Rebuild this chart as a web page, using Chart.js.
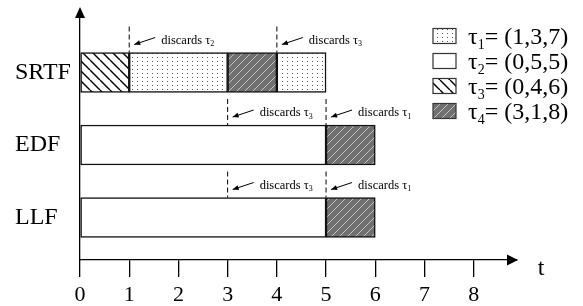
<!DOCTYPE html>
<html>
<head>
<meta charset="utf-8">
<script src="https://cdn.jsdelivr.net/npm/chart.js@4.4.0/dist/chart.umd.min.js"></script>
<style>
  html, body { margin: 0; padding: 0; background: #fff; }
</style>
</head>
<body>
<canvas id="chart" width="583" height="306"></canvas>
<script>
// rows of the chart (scheduling policies)
const schedulers = ['SRTF', 'EDF', 'LLF'];
// tasks and their parameters
const taskSubs = ['1', '2', '3', '4'];
const taskParams = ['(1,3,7)', '(0,5,5)', '(0,4,6)', '(3,1,8)'];

// execution segments
const segRow   = ['SRTF', 'SRTF', 'SRTF', 'SRTF', 'EDF', 'EDF', 'LLF', 'LLF'];
const segTask  = [2, 0, 3, 0, 1, 3, 1, 3];
const segStart = [0, 1, 3, 4, 0, 5, 0, 5];
const segEnd   = [1, 3, 4, 5, 5, 6, 5, 6];

// discard events
const discRow  = ['SRTF', 'SRTF', 'EDF', 'EDF', 'LLF', 'LLF'];
const discTime = [1, 4, 3, 5, 3, 5];
const discTask = [1, 2, 2, 0, 2, 0];

const xTicks = [0, 1, 2, 3, 4, 5, 6, 7, 8];

const SERIF = "'Liberation Serif', 'Times New Roman', serif";
Chart.defaults.font.family = SERIF;
Chart.defaults.color = '#000';

// fill patterns for each task
function makePattern(kind) {
  const c = document.createElement('canvas');
  const g = c.getContext('2d');
  if (kind === 0) {            // dotted
    c.width = 5; c.height = 4;
    g.fillStyle = '#fff'; g.fillRect(0, 0, 5, 4);
    g.fillStyle = '#555'; g.fillRect(2, 1, 1, 1);
  } else if (kind === 1) {     // plain white
    return '#fff';
  } else if (kind === 2) {     // black back-diagonal hatch
    const s = 10;
    c.width = s; c.height = s;
    g.fillStyle = '#fff'; g.fillRect(0, 0, s, s);
    g.strokeStyle = '#000'; g.lineWidth = 1.4;
    g.beginPath();
    for (const k of [-s, 0, s]) { g.moveTo(k, 0); g.lineTo(k + s, s); }
    g.stroke();
  } else {                     // dark grey with light forward hatch
    const s = 8;
    c.width = s; c.height = s;
    g.fillStyle = '#707070'; g.fillRect(0, 0, s, s);
    g.strokeStyle = '#c4c4c4'; g.lineWidth = 1;
    g.beginPath();
    for (const k of [-s, 0, s]) { g.moveTo(k, s); g.lineTo(k + s, 0); }
    g.stroke();
  }
  return g.createPattern(c, 'repeat');
}
const patterns = [0, 1, 2, 3].map(makePattern);

const datasets = taskSubs.map((sub, t) => ({
  label: 'τ' + sub,
  data: segRow
    .map((r, i) => segTask[i] === t ? { x: [segStart[i], segEnd[i]], y: schedulers.indexOf(r) } : null)
    .filter(Boolean),
  backgroundColor: patterns[t],
  borderColor: '#111',
  borderWidth: 1.5,
  borderSkipped: false,
  barThickness: 40,
  grouped: false
}));

// text with a subscript: base + sub + rest
function subText(ctx, x, y, base, sub, rest, size) {
  ctx.font = size + 'px ' + SERIF;
  ctx.fillText(base, x, y);
  x += ctx.measureText(base).width;
  ctx.font = Math.round(size * 0.6) + 'px ' + SERIF;
  ctx.fillText(sub, x, y + size * 0.2);
  x += ctx.measureText(sub).width;
  ctx.font = size + 'px ' + SERIF;
  ctx.fillText(rest, x, y);
}

const extras = {
  id: 'extras',
  afterDraw(chart) {
    const ctx = chart.ctx;
    const xs = chart.scales.x, ys = chart.scales.y;
    const area = chart.chartArea;
    ctx.save();
    ctx.fillStyle = '#000';
    ctx.strokeStyle = '#000';

    // axis arrow heads
    ctx.beginPath();
    ctx.moveTo(area.right + 1, area.bottom);
    ctx.lineTo(area.right - 10, area.bottom - 5.5);
    ctx.lineTo(area.right - 10, area.bottom + 5.5);
    ctx.closePath();
    ctx.fill();
    ctx.beginPath();
    ctx.moveTo(area.left, area.top - 10);
    ctx.lineTo(area.left - 5, area.top + 1);
    ctx.lineTo(area.left + 5, area.top + 1);
    ctx.closePath();
    ctx.fill();

    ctx.font = '24px ' + SERIF;
    ctx.textAlign = 'center';
    ctx.textBaseline = 'alphabetic';
    ctx.fillText('t', area.right + 24, area.bottom + 15);

    // discard markers
    ctx.textAlign = 'left';
    discTime.forEach((tm, i) => {
      const xl = xs.getPixelForValue(tm);
      const top = ys.getPixelForValue(schedulers.indexOf(discRow[i])) - 20;
      ctx.lineWidth = 1;
      ctx.setLineDash([5, 3]);
      ctx.beginPath();
      ctx.moveTo(xl, top - 26);
      ctx.lineTo(xl, top);
      ctx.stroke();
      ctx.setLineDash([]);
      // arrow
      const tx = xl + 5, ty = top - 8, sx = xl + 26, sy = top - 15;
      ctx.beginPath();
      ctx.moveTo(sx, sy);
      ctx.lineTo(tx, ty);
      ctx.stroke();
      const ang = Math.atan2(ty - sy, tx - sx);
      ctx.beginPath();
      ctx.moveTo(tx, ty);
      ctx.lineTo(tx - 6 * Math.cos(ang) + 2.5 * Math.sin(ang), ty - 6 * Math.sin(ang) - 2.5 * Math.cos(ang));
      ctx.lineTo(tx - 6 * Math.cos(ang) - 2.5 * Math.sin(ang), ty - 6 * Math.sin(ang) + 2.5 * Math.cos(ang));
      ctx.closePath();
      ctx.fill();
      subText(ctx, xl + 32, top - 9, 'discards τ', taskSubs[discTask[i]], '', 12.5);
    });

    // legend
    taskSubs.forEach((sub, t) => {
      const cy = 36 + 25 * t;
      ctx.fillStyle = patterns[t];
      ctx.fillRect(433, cy - 7.5, 23, 15);
      ctx.lineWidth = 1.2;
      ctx.strokeStyle = '#333';
      ctx.strokeRect(433, cy - 7.5, 23, 15);
      ctx.fillStyle = '#000';
      ctx.textBaseline = 'alphabetic';
      subText(ctx, 468, cy + 8, 'τ', sub, '= ' + taskParams[t], 24);
    });
    ctx.restore();
  }
};

new Chart(document.getElementById('chart'), {
  type: 'bar',
  data: { datasets },
  options: {
    responsive: false,
    animation: false,
    indexAxis: 'y',
    layout: { padding: { left: 15, right: 66, top: 17, bottom: 0 } },
    plugins: { legend: { display: false }, tooltip: { enabled: false } },
    scales: {
      x: {
        type: 'linear', min: 0, max: 8.88, offset: false,
        afterBuildTicks: s => { s.ticks = xTicks.map(v => ({ value: v })); },
        ticks: { font: { size: 22 }, color: '#000', padding: 5, maxRotation: 0, autoSkip: false },
        grid: { drawOnChartArea: false, drawTicks: true, tickLength: 17, color: '#000', lineWidth: 1.3 },
        border: { display: true, color: '#000', width: 1.3 },
        afterFit: s => { s.height = 46; }
      },
      y: {
        type: 'linear', reverse: true, min: -0.766, max: 2.586, offset: false,
        afterBuildTicks: s => { s.ticks = schedulers.map((_, i) => ({ value: i })); },
        ticks: { callback: v => schedulers[v], font: { size: 24 }, color: '#000', crossAlign: 'far', padding: 0 },
        grid: { drawOnChartArea: false, drawTicks: false, tickLength: 0 },
        border: { display: true, color: '#000', width: 1.3 },
        afterFit: s => { s.width = 65; }
      }
    }
  },
  plugins: [extras]
});
</script>
</body>
</html>
